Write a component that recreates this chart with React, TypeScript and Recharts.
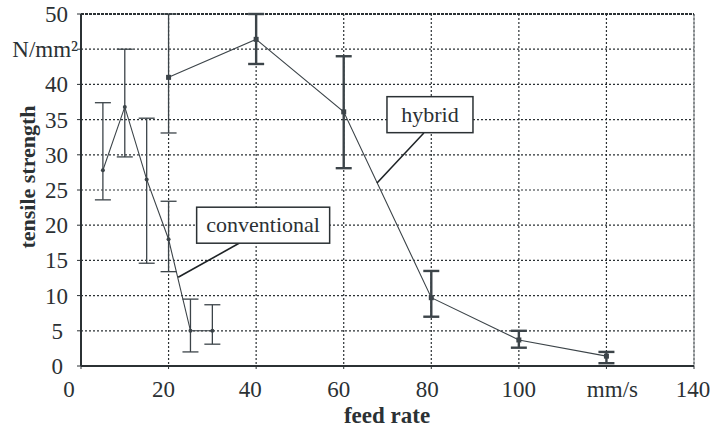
import React from 'react';
import {
  LineChart,
  Line,
  XAxis,
  YAxis,
  CartesianGrid,
  ErrorBar,
  ReferenceLine,
  ReferenceDot,
  Label,
} from 'recharts';

// ---- data ----
const convX = [5, 10, 15, 20, 25, 30];
const convY = [27.8, 36.8, 26.5, 18.0, 5.0, 5.0];
const convLow = [23.6, 29.7, 14.6, 13.4, 2.0, 3.1];
const convHigh = [37.4, 45.0, 35.2, 23.4, 9.5, 8.7];

const hybX = [20, 40, 60, 80, 100, 120];
const hybY = [41.0, 46.4, 36.1, 9.7, 3.7, 1.4];
const hybLow = [33.1, 42.9, 28.1, 7.0, 2.6, 0.4];
const hybHigh = [50.0, 50.0, 44.0, 13.5, 5.0, 2.0];
// the first hybrid bar is drawn thin in the reference
const hybThinBar = [true, false, false, false, false, false];

const xTicks = [0, 20, 40, 60, 80, 100, 120, 140];
const xTickLabels = ['0', '20', '40', '60', '80', '100', 'mm/s', '140'];
const yTicks = [0, 5, 10, 15, 20, 25, 30, 35, 40, 45, 50];
const yTickLabels = ['0', '5', '10', '15', '20', '25', '30', '35', '40', 'N/mm²', '50'];

const xTitle = 'feed rate';
const yTitle = 'tensile strength';

const seriesNames = ['conventional', 'hybrid'];
// annotation anchors (data coordinates): box centre and leader line ends
const annoX = [41.6, 79.7];
const annoY = [20.0, 35.7];
const leaderFromX = [36.3, 78.3];
const leaderFromY = [17.5, 33.1];
const leaderToX = [22.2, 67.6];
const leaderToY = [12.6, 26.0];

// ---- styles ----
const FONT = 'Liberation Serif, Times New Roman, Times, serif';
const INK = '#2b3134';
const LINE = '#3c4449';
const boxW = [133, 86];
const boxH = 36;

const convData = convX.map((x, i) => ({
  x,
  y: convY[i],
  err: [convY[i] - convLow[i], convHigh[i] - convY[i]],
}));
const hybData = hybX.map((x, i) => {
  const e = [hybY[i] - hybLow[i], hybHigh[i] - hybY[i]];
  return {
    x,
    y: hybY[i],
    errThick: hybThinBar[i] ? null : e,
    errThin: hybThinBar[i] ? e : null,
  };
});

const xDx = [-12, -5, -6, -5, -4, 0, 6, -1];

const txt = (size: number, bold = false): React.CSSProperties => ({
  fontFamily: FONT,
  fontSize: size,
  fontWeight: bold ? 700 : 400,
});

const XTick = (props: any) => {
  const { x, payload } = props;
  const idx = xTicks.indexOf(payload.value);
  return (
    <text x={x + (xDx[idx] || 0)} y={397} textAnchor="middle" style={txt(23)} fill={INK}>
      {xTickLabels[idx]}
    </text>
  );
};

const YTick = (props: any) => {
  const { y, payload } = props;
  const idx = yTicks.indexOf(payload.value);
  const label = yTickLabels[idx];
  const endX = payload.value === 45 ? 78 : payload.value <= 5 ? 63 : 68;
  return (
    <text x={endX} y={y + 8} textAnchor="end" style={txt(23)} fill={INK}>
      {label}
    </text>
  );
};

const SquareDot = (props: any) => {
  const { cx, cy } = props;
  if (cx == null || cy == null) return null;
  return <rect x={cx - 2.5} y={cy - 2.5} width={5} height={5} fill={LINE} />;
};

const RoundDot = (props: any) => {
  const { cx, cy } = props;
  if (cx == null || cy == null) return null;
  return <circle cx={cx} cy={cy} r={2} fill={LINE} />;
};

const makeBox = (i: number) => (props: any) => {
  const { cx, cy } = props;
  const w = boxW[i];
  return (
    <g>
      <rect
        x={cx - w / 2}
        y={cy - boxH / 2}
        width={w}
        height={boxH}
        fill="#fff"
        stroke={INK}
        strokeWidth={1.5}
      />
      <text x={cx} y={cy + 7} textAnchor="middle" style={txt(22)} fill={INK}>
        {seriesNames[i]}
      </text>
    </g>
  );
};

const YTitle = () => (
  <text
    x={35}
    y={177}
    transform="rotate(-90, 35, 177)"
    textAnchor="middle"
    style={txt(22, true)}
    fill={INK}
  >
    {yTitle}
  </text>
);

const XTitle = () => (
  <text x={387} y={423} textAnchor="middle" style={txt(23, true)} fill={INK}>
    {xTitle}
  </text>
);

export default function App() {
  return (
    <div
      style={{
        position: 'absolute',
        left: 0,
        top: 0,
        background: '#fff',
        fontFamily: FONT,
      }}
    >
      <LineChart
        width={710}
        height={428}
        margin={{ top: 14, right: 16, bottom: 0, left: 0 }}
        style={{ fontFamily: FONT }}
      >
        <CartesianGrid
          stroke={INK}
          strokeDasharray="2 2"
          strokeWidth={1.2}
          horizontalValues={yTicks}
          verticalValues={xTicks}
        />
        <XAxis
          dataKey="x"
          type="number"
          domain={[0, 140]}
          ticks={xTicks}
          interval={0}
          height={62}
          tick={<XTick />}
          tickSize={3}
          tickLine={{ stroke: INK }}
          axisLine={{ stroke: INK, strokeWidth: 2 }}
          allowDataOverflow
        >
          <Label content={<XTitle />} />
        </XAxis>
        <YAxis
          type="number"
          domain={[0, 50]}
          ticks={yTicks}
          interval={0}
          width={81}
          tick={<YTick />}
          tickSize={4}
          tickLine={{ stroke: INK }}
          axisLine={{ stroke: INK, strokeWidth: 2 }}
          allowDataOverflow
        >
          <Label content={<YTitle />} />
        </YAxis>
        <ReferenceLine x={140} stroke="#8a8f92" strokeWidth={1.2} />
        <ReferenceLine y={50} stroke={INK} strokeWidth={2} strokeDasharray="3 1" />
        <Line
          data={convData}
          dataKey="y"
          type="linear"
          stroke={LINE}
          strokeWidth={1.1}
          dot={<RoundDot />}
          activeDot={false}
          isAnimationActive={false}
        >
          <ErrorBar dataKey="err" direction="y" width={8} stroke={LINE} strokeWidth={1.3} />
        </Line>
        <Line
          data={hybData}
          dataKey="y"
          type="linear"
          stroke={LINE}
          strokeWidth={1.1}
          dot={<SquareDot />}
          activeDot={false}
          isAnimationActive={false}
        >
          <ErrorBar dataKey="errThick" direction="y" width={8} stroke={LINE} strokeWidth={2.4} />
          <ErrorBar dataKey="errThin" direction="y" width={8} stroke={LINE} strokeWidth={1.3} />
        </Line>
        {seriesNames.map((n, i) => (
          <ReferenceLine
            key={'l' + n}
            segment={[
              { x: leaderFromX[i], y: leaderFromY[i] },
              { x: leaderToX[i], y: leaderToY[i] },
            ]}
            stroke="#1e2326"
            strokeWidth={1.6}
          />
        ))}
        {seriesNames.map((n, i) => (
          <ReferenceDot
            key={'b' + n}
            x={annoX[i]}
            y={annoY[i]}
            r={1}
            shape={makeBox(i)}
          />
        ))}
      </LineChart>
    </div>
  );
}
